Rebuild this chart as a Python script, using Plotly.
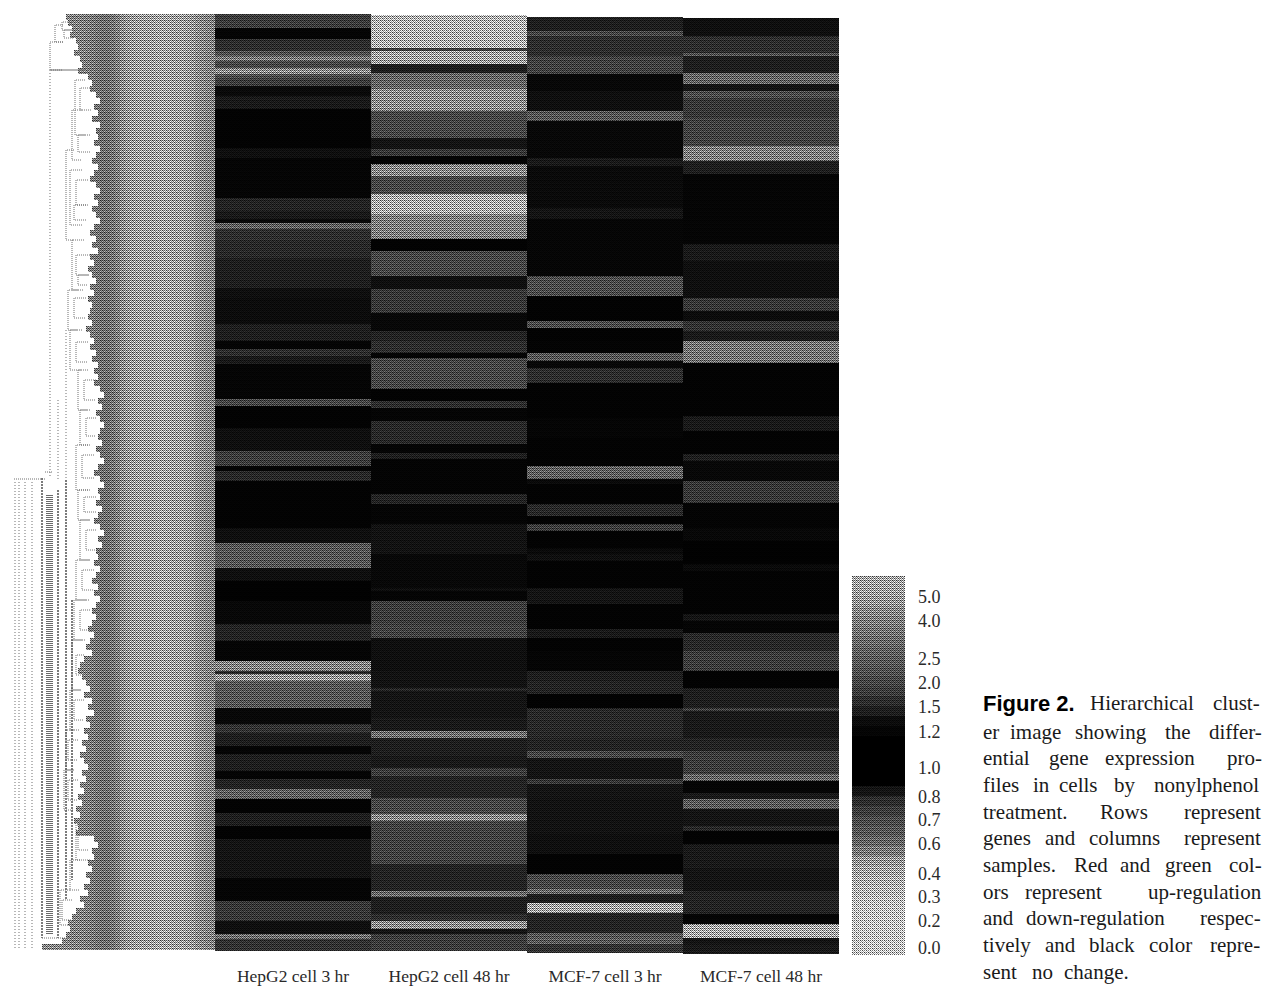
import plotly.graph_objects as go

W, H = 1266, 986
TOP, BOTTOM = 14, 954

SAMPLES = ["HepG2 cell 3 hr", "HepG2 cell 48 hr", "MCF-7 cell 3 hr", "MCF-7 cell 48 hr"]

# Each sample: last gene row of each band, and the grey level of that band
HEPG2_3H_END = [27,38,50,55,60,67,73,77,85,95,108,147,157,197,210,218,222,228,240,257,273,287,297,323,340,
                348,355,363,398,405,427,437,450,465,470,480,527,542,567,580,600,623,640,650,
                660,670,673,680,707,723,732,745,753,770,778,788,798,812,825,838,877,900,920,933,938,950]
HEPG2_3H_LEVEL = [60,5,45,80,120,70,140,75,60,10,25,3,15,5,35,25,10,95,45,40,30,30,15,12,30,
                  5,45,25,5,70,3,15,15,60,5,40,3,15,85,15,2,8,35,5,
                  5,130,40,150,85,8,50,30,5,30,5,35,95,3,30,3,20,5,55,15,110,50]

HEPG2_48H_END = [47,50,63,72,88,110,137,148,155,163,175,193,213,238,250,275,288,312,330,340,
                 352,357,388,400,407,420,443,452,458,493,503,523,553,587,590,600,623,637,650,
                 670,687,690,717,730,737,755,767,775,797,813,820,863,890,896,913,920,928,933,950]
HEPG2_48H_LEVEL = [185,60,165,30,100,140,70,20,55,5,135,70,175,125,3,70,15,55,8,35,
                   45,5,70,3,45,5,40,5,30,4,35,5,18,8,15,5,60,65,15,
                   15,18,40,20,25,110,30,25,60,35,70,135,65,35,105,30,45,140,20,60]

MCF7_3H_END = [30,35,55,73,90,110,120,157,165,207,218,275,295,320,327,340,
               352,360,367,382,417,437,465,478,483,503,515,523,530,547,553,560,587,603,628,637,650,
               670,680,693,707,737,750,757,778,783,797,833,853,873,888,893,902,912,932,937,943,952]
MCF7_3H_LEVEL = [30,70,45,65,8,15,85,8,25,10,20,6,75,3,75,3,
                 4,85,8,45,3,5,3,95,10,3,40,3,60,3,10,15,3,20,3,25,3,
                 5,30,35,3,40,35,70,20,55,20,18,15,3,70,105,30,165,35,85,90,50]

MCF7_48H_END = [35,52,55,72,83,90,97,117,130,145,160,173,243,260,297,310,320,330,340,
                362,415,430,453,460,480,502,527,540,563,570,613,620,632,650,
                670,687,707,710,737,750,773,780,792,798,808,825,830,843,867,890,913,923,937,943,953]
MCF7_48H_LEVEL = [15,45,80,30,100,20,75,55,65,65,125,30,5,25,15,55,12,50,25,
                  115,3,25,3,30,8,55,4,8,2,10,3,20,5,40,
                  60,3,30,65,25,35,60,100,5,25,90,20,40,3,25,20,35,5,170,20,25]

COLUMN_FIRST_ROW = [14, 15, 17, 18]

# Dendrogram leaf edge (one value per block of leaves) and the grey profile of the leaves
LEAF_EDGE = [66,68,72,70,76,78,74,80,82,78,
             88,92,90,96,100,94,98,92,100,96,
             98,94,100,96,92,98,94,90,96,100,
             94,98,92,96,100,94,90,96,92,98,
             90,94,88,92,96,90,94,88,92,90,
             88,92,86,90,94,90,96,92,98,94,
             98,94,100,104,98,102,96,100,104,100,
             98,102,96,100,104,98,94,100,104,98,
             100,96,102,98,94,100,104,98,102,96,
             98,94,100,96,92,98,94,100,96,92,
             96,92,88,94,90,86,92,84,80,78,
             82,86,90,84,92,88,94,86,90,84,
             88,82,86,80,84,88,82,86,80,84,
             78,82,76,80,74,78,76,94,98,92,
             94,88,92,86,90,84,88,80,84,76,
             72,68,70,66,62,42]
LEAF_GREY = [135,135,135,135,135,135,130,130,128,125,120,115,110,110,115,125,140,150,155,160,
             160,160,160,165,165,165,160,160,160,155,150,140,135,130,130]

# Dendrogram links: left x, top row, bottom row, right x
LINKS = [(55,25,42,63),(50,42,70,63),(62,22,30,72),(64,30,38,74),(50,70,70,85),
         (75,80,135,85),(80,88,110,92),(72,110,160,82),(78,135,152,90),(66,150,240,74),
         (70,170,225,82),(76,180,205,88),(74,205,220,86),(72,240,290,84),(76,255,275,90),
         (78,275,285,88),(68,290,330,78),(74,298,318,86),(70,330,370,82),(76,342,362,88),
         (78,370,410,88),(84,380,400,96),(80,410,445,90),(86,418,436,96),(76,445,490,88),
         (82,455,478,94),(78,490,520,90),(84,497,512,96),(80,520,560,90),(86,530,550,96),
         (76,560,600,90),(82,570,590,94),(74,600,640,86),(80,610,630,90),(72,640,690,82),
         (76,655,675,84),(70,690,730,80),(74,700,720,84),(66,730,770,74),(68,740,760,78),
         (64,770,810,74),(68,780,800,78),(76,825,860,90),(78,835,850,88),(70,860,890,80),
         (60,890,925,70),(62,900,920,72)]

TRUNK_DARK = [(42,478,938),(58,490,938),(66,480,900),(72,600,880)]
TRUNK_LIGHT = [(15,482,948),(19,482,948),(25,482,948),(32,482,948),(50,70,478),(66,330,480),(58,400,480)]
TRUNK_BAND = [(49.5,495,935)]
CROSS = [(14,45,479),(42,70,938),(45,52,472)]

# Colour key
LEGEND_GREY = [165,160,150,135,125,115,105,95,88,80,70,60,45,30,12,5,0,0,0,0,0,20,45,60,75,85,100,120,
               150,165,180,190,205,210,215,215,215,212]
LEGEND_LABELS = ["5.0","4.0","2.5","2.0","1.5","1.2","1.0","0.8","0.7","0.6","0.4","0.3","0.2","0.0"]
LEGEND_TICK_ROWS = [597,621,659,683,707,732,768,797,820,844,874,897,921,948]

# Printing screen of the scanned page
SCREEN = [[0, 8, 2, 10], [12, 4, 14, 6], [3, 11, 1, 9], [15, 7, 13, 5]]
SCREEN_STRENGTH = 0.75

# Caption, word by word: (text, left x, line y, bold)
CAPTION = [("Figure 2.",981,703,True),("Hierarchical",1088,703,False),("clust-",1211,703,False),
           ("er",981,732,False),("image",1008,732,False),("showing",1073,732,False),("the",1163,732,False),("differ-",1207,732,False),
           ("ential",981,758,False),("gene",1047,758,False),("expression",1103,758,False),("pro-",1225,758,False),
           ("files",981,785,False),("in",1031,785,False),("cells",1057,785,False),("by",1112,785,False),("nonylphenol",1152,785,False),
           ("treatment.",981,812,False),("Rows",1098,812,False),("represent",1182,812,False),
           ("genes",981,838,False),("and",1043,838,False),("columns",1087,838,False),("represent",1182,838,False),
           ("samples.",981,865,False),("Red",1072,865,False),("and",1118,865,False),("green",1163,865,False),("col-",1227,865,False),
           ("ors",981,892,False),("represent",1023,892,False),("up-regulation",1146,892,False),
           ("and",981,918,False),("down-regulation",1024,918,False),("respec-",1198,918,False),
           ("tively",981,945,False),("and",1043,945,False),("black",1087,945,False),("color",1147,945,False),("repre-",1208,945,False),
           ("sent",981,972,False),("no",1030,972,False),("change.",1062,972,False)]

SERIF = "Liberation Serif, serif"
INK = "#2a2a2a"

rows = list(range(TOP, BOTTOM))


def expand(ends, levels, first):
    out, k = [], 0
    for r in rows:
        while k < len(ends) - 1 and r > ends[k]:
            k += 1
        out.append(None if (r < first or r > ends[-1]) else levels[k])
    return out


def screened(level, px, row):
    if level is None:
        return None
    shade = level * (1 + SCREEN_STRENGTH * (SCREEN[row % 4][px % 4] - 7.5) / 7.5)
    return round(min(255, shade))


cols = [expand(HEPG2_3H_END, HEPG2_3H_LEVEL, COLUMN_FIRST_ROW[0]),
        expand(HEPG2_48H_END, HEPG2_48H_LEVEL, COLUMN_FIRST_ROW[1]),
        expand(MCF7_3H_END, MCF7_3H_LEVEL, COLUMN_FIRST_ROW[2]),
        expand(MCF7_48H_END, MCF7_48H_LEVEL, COLUMN_FIRST_ROW[3])]
GREYS = [[0, "rgb(0,0,0)"], [1, "rgb(255,255,255)"]]
MAIN_L, MAIN_R = 215, 839
COL_W = (MAIN_R - MAIN_L) // len(SAMPLES)
main_px = list(range(MAIN_L, MAIN_R))
z_main = [[screened(cols[(p - MAIN_L) // COL_W][i], p, r) for p in main_px] for i, r in enumerate(rows)]

fig = go.Figure()
fig.add_trace(go.Heatmap(z=z_main, x=[p + 0.5 for p in main_px], y=[r + 0.5 for r in rows], colorscale=GREYS,
                         zmin=0, zmax=255, showscale=False, xaxis="x", yaxis="y", hoverongaps=False, hoverinfo="skip"))

# Leaves of the dendrogram
LEAF_START, LEAF_STEP, BLOCK = 40, 5, 6
leaf_px = list(range(LEAF_START, MAIN_L))
leaf_rows = list(range(TOP, TOP + BLOCK * len(LEAF_EDGE)))
z_leaf = [[screened(LEAF_GREY[min((p - LEAF_START) // LEAF_STEP, len(LEAF_GREY) - 1)], p, r)
           if p >= LEAF_EDGE[(r - TOP) // BLOCK] else None for p in leaf_px] for r in leaf_rows]
fig.add_trace(go.Heatmap(z=z_leaf, x=[p + 0.5 for p in leaf_px], y=[r + 0.5 for r in leaf_rows], colorscale=GREYS,
                         zmin=0, zmax=255, showscale=False, xaxis="x2", yaxis="y2", hoverongaps=False, hoverinfo="skip"))


def vlines(items):
    xs, ys = [], []
    for x, y0, y1 in items:
        xs += [x, x, None]
        ys += [y0, y1, None]
    return xs, ys


lx, ly = [], []
for x0, y0, y1, x1 in LINKS:
    lx += [x1, x0, x0, x1, None]
    ly += [y0, y0, y1, y1, None]
fig.add_trace(go.Scatter(x=lx, y=ly, mode="lines", line=dict(color="#707070", width=1, dash="1px,1px"),
                         xaxis="x2", yaxis="y2", hoverinfo="skip", showlegend=False))
xs, ys = vlines(TRUNK_LIGHT)
fig.add_trace(go.Scatter(x=xs, y=ys, mode="lines", line=dict(color="#a0a0a0", width=1.5, dash="1px,2px"),
                         xaxis="x2", yaxis="y2", hoverinfo="skip", showlegend=False))
xs, ys = vlines(TRUNK_DARK)
fig.add_trace(go.Scatter(x=xs, y=ys, mode="lines", line=dict(color="#505050", width=1.5, dash="2px,1px"),
                         xaxis="x2", yaxis="y2", hoverinfo="skip", showlegend=False))
xs, ys = vlines(TRUNK_BAND)
fig.add_trace(go.Scatter(x=xs, y=ys, mode="lines", line=dict(color="#6a6a6a", width=7, dash="1px,1px"),
                         xaxis="x2", yaxis="y2", hoverinfo="skip", showlegend=False))
cx, cy = [], []
for x0, x1, y in CROSS:
    cx += [x0, x1, None]
    cy += [y, y, None]
fig.add_trace(go.Scatter(x=cx, y=cy, mode="lines", line=dict(color="#707070", width=1, dash="1px,1px"),
                         xaxis="x2", yaxis="y2", hoverinfo="skip", showlegend=False))

# Colour key
KEY_L, KEY_R, KEY_T, KEY_B, KEY_STEP = 852, 905, 576, 955, 10
key_px = list(range(KEY_L, KEY_R))
key_rows = list(range(KEY_T, KEY_B))
z_key = [[screened(LEGEND_GREY[min((r - KEY_T) // KEY_STEP, len(LEGEND_GREY) - 1)], p, r) for p in key_px]
         for r in key_rows]
fig.add_trace(go.Heatmap(z=z_key, x=[p + 0.5 for p in key_px], y=[r + 0.5 for r in key_rows], colorscale=GREYS,
                         zmin=0, zmax=255, showscale=False, xaxis="x3", yaxis="y3", hoverinfo="skip"))

for text, x, y, bold in CAPTION:
    fig.add_annotation(text=f"<b>{text}</b>" if bold else text, x=x / W, y=1 - y / H, xref="paper", yref="paper",
                       xanchor="left", yanchor="middle", showarrow=False,
                       font=dict(family="Liberation Sans, sans-serif" if bold else SERIF,
                                 size=22 if bold else 21, color="#1a1a1a" if not bold else "#000"))

dom_y = [1 - BOTTOM / H, 1 - TOP / H]
hidden = dict(showgrid=False, zeroline=False, showticklabels=False, ticks="", showline=False)
fig.update_layout(
    width=W, height=H, margin=dict(l=0, r=0, t=0, b=0), autosize=False,
    paper_bgcolor="white", plot_bgcolor="rgba(0,0,0,0)", showlegend=False,
    xaxis=dict(domain=[MAIN_L / W, MAIN_R / W], range=[MAIN_L, MAIN_R], showgrid=False, zeroline=False, ticks="",
               showline=False, tickvals=[MAIN_L + COL_W * (i + 0.5) for i in range(len(SAMPLES))], ticktext=SAMPLES,
               tickfont=dict(family=SERIF, size=17.5, color=INK), ticklabelstandoff=9, automargin=False),
    yaxis=dict(domain=dom_y, range=[BOTTOM, TOP], **hidden),
    xaxis2=dict(domain=[0, MAIN_L / W], range=[0, MAIN_L], anchor="y2", **hidden),
    yaxis2=dict(domain=dom_y, range=[BOTTOM, TOP], anchor="x2", **hidden),
    xaxis3=dict(domain=[KEY_L / W, KEY_R / W], range=[KEY_L, KEY_R], anchor="y3", **hidden),
    yaxis3=dict(domain=[1 - KEY_B / H, 1 - KEY_T / H], range=[KEY_B, KEY_T], anchor="x3", side="right",
                tickvals=LEGEND_TICK_ROWS, ticktext=LEGEND_LABELS, showgrid=False, zeroline=False, ticks="",
                showline=False, tickfont=dict(family=SERIF, size=18, color=INK), ticklabelstandoff=12,
                automargin=False),
)
fig.write_html("out.html", post_script="document.body.style.margin='0';", config=dict(displayModeBar=False))
